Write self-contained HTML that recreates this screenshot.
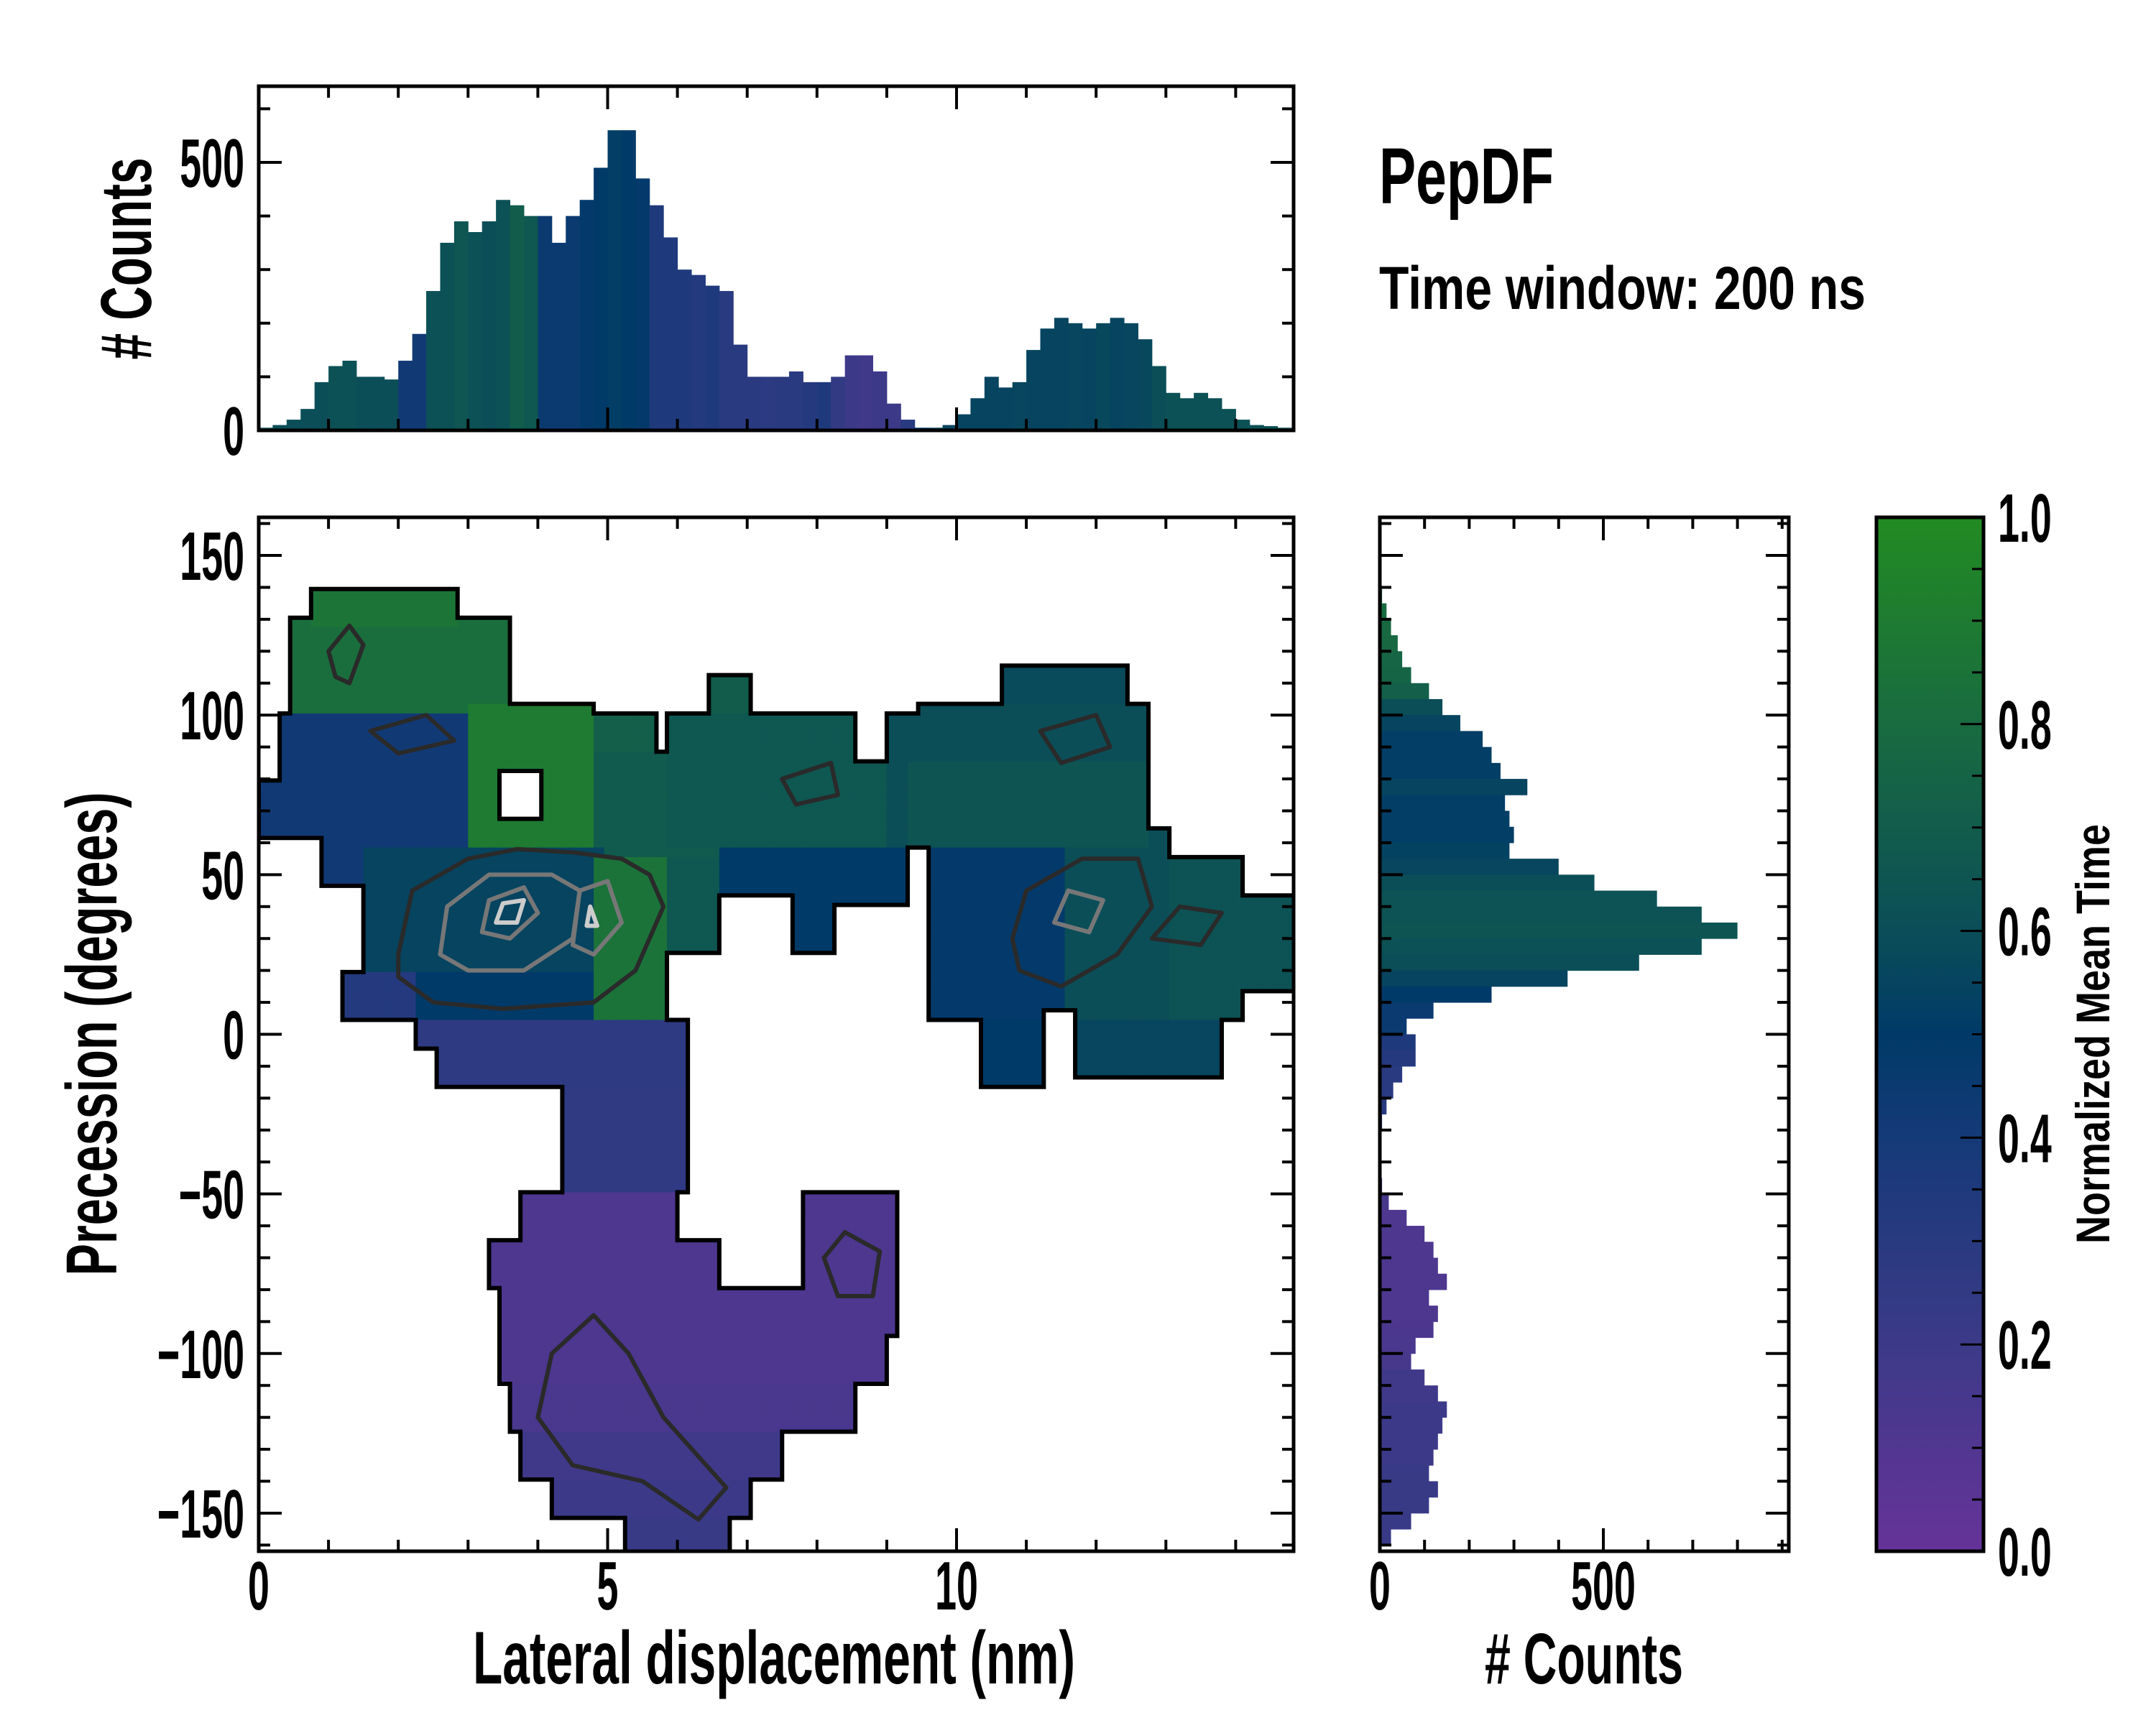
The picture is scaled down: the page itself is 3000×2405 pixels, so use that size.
<!DOCTYPE html>
<html><head><meta charset="utf-8"><style>
html,body{margin:0;padding:0;background:#fff;}
svg text{font-family:"Liberation Sans Narrow","Liberation Sans",sans-serif;font-weight:bold;fill:#000;}
</style></head><body>
<svg id="fig" xmlns="http://www.w3.org/2000/svg" width="3000" height="2400" viewBox="0 0 3000 2400">
<defs>
<linearGradient id="cmap" x1="0" y1="1" x2="0" y2="0">
<stop offset="0" stop-color="#663399"/><stop offset="0.2" stop-color="#3c3a88"/><stop offset="0.4" stop-color="#153a78"/><stop offset="0.5" stop-color="#003a68"/><stop offset="0.6" stop-color="#0b4e58"/><stop offset="0.8" stop-color="#196b40"/><stop offset="1" stop-color="#228b22"/>
</linearGradient>
<clipPath id="mainclip"><rect x="360" y="720" width="1440" height="1439"/></clipPath>
</defs>
<g id="main"></g>
<g id="tophist"></g>
<g id="righthist"></g>
<g id="cbar"></g>
<text x="1919" y="283" font-size="110" textLength="243" lengthAdjust="spacingAndGlyphs">PepDF</text>
<text x="1919" y="430" font-size="84" textLength="677" lengthAdjust="spacingAndGlyphs">Time window: 200 ns</text>
<text x="1077" y="2343" font-size="104" text-anchor="middle" textLength="838" lengthAdjust="spacingAndGlyphs">Lateral displacement (nm)</text>
<text transform="translate(162,1439) rotate(-90)" font-size="100" text-anchor="middle" textLength="673" lengthAdjust="spacingAndGlyphs">Precession (degrees)</text>
<text transform="translate(210,360) rotate(-90)" font-size="100" text-anchor="middle" textLength="281" lengthAdjust="spacingAndGlyphs"># Counts</text>
<text x="2204" y="2343" font-size="100" text-anchor="middle" textLength="276" lengthAdjust="spacingAndGlyphs"># Counts</text>
<text transform="translate(2935,1439) rotate(-90)" font-size="66" text-anchor="middle" textLength="584" lengthAdjust="spacingAndGlyphs">Normalized Mean Time</text>
</svg>
<script>
// ---- data ----
const regions = [
 [0.4,3.6,100,130,0.82],[0.8,2.9,128,139,0.86],
 [0.3,3.0,80,100,0.42],[0.0,3.0,62,80,0.42],[0.9,3.0,48,62,0.42],
 [3.0,4.8,60,104,0.9],[3.5,4.1,68,82,-1],
 [4.8,6.6,55,90,0.68],[4.8,5.7,90,100,0.72],
 [1.5,5.0,20,60,0.55],[1.2,5.0,5,20,0.5],[1.2,2.2,5,20,0.32],
 [4.8,5.9,5,55,0.85],[5.9,6.6,25,55,0.66],
 [2.2,6.1,-5,5,0.27],[2.6,6.1,-15,-5,0.27],
 [4.3,6.1,-50,-15,0.26],
 [3.8,6.0,-65,-50,0.12],[3.3,6.6,-80,-65,0.12],[7.8,9.2,-95,-50,0.12],
 [3.5,9.0,-110,-80,0.12],[3.6,8.5,-125,-110,0.14],[3.7,7.5,-140,-125,0.18],
 [4.2,7.0,-150,-140,0.2],[5.3,6.8,-163,-150,0.22],
 [6.5,7.1,100,113,0.7],[5.8,8.5,85,100,0.66],[5.9,9.3,60,85,0.66],
 [6.6,9.3,45,60,0.5],[7.6,8.2,27,45,0.5],[8.2,9.3,40,45,0.5],
 [9.0,9.6,60,100,0.6],
 [10.6,12.5,105,115,0.58],[9.4,12.7,85,105,0.6],[9.3,12.8,60,85,0.64],[12.8,13.0,55,65,0.6],
 [9.6,11.5,5,60,0.48],[11.5,13.0,5,58,0.6],[13.0,14.1,5,55,0.63],[14.1,14.8,15,45,0.63],
 [10.3,11.3,-15,5,0.5],[11.7,13.8,-12,5,0.56],[11.3,11.7,-10,8,-1]
];
const contoursDark = [
 [[2.0,25],[2.2,45],[3.0,55],[3.7,58],[4.5,57],[5.2,55],[5.6,50],[5.8,40],[5.4,20],[4.8,10],[3.5,8],[2.5,10],[2.0,18]],
 [[4.2,-100],[4.0,-120],[4.5,-135],[5.5,-140],[6.3,-152],[6.7,-142],[5.8,-120],[5.3,-100],[4.8,-88]],
 [[10.8,30],[11.0,45],[11.8,55],[12.6,55],[12.8,40],[12.3,25],[11.5,15],[10.9,20]],
 [[12.8,30],[13.2,40],[13.8,38],[13.5,28]],
 [[8.1,-70],[8.4,-62],[8.9,-68],[8.8,-82],[8.3,-82]],
 [[1.0,120],[1.3,128],[1.5,122],[1.3,110],[1.1,112]],
 [[1.6,95],[2.4,100],[2.8,92],[2.0,88]],
 [[7.5,80],[8.2,85],[8.3,75],[7.7,72]],
 [[11.2,95],[12.0,100],[12.2,90],[11.5,85]]
];
const contoursGray = [
 [[2.6,25],[2.7,40],[3.3,50],[4.2,50],[4.6,45],[4.5,30],[3.8,20],[3.0,20]],
 [[4.5,28],[4.6,45],[5.0,48],[5.2,35],[4.8,25]],
 [[3.2,32],[3.3,42],[3.8,46],[4.0,38],[3.6,30]],
 [[11.4,35],[11.6,45],[12.1,42],[11.9,32]]
];
const contoursLight = [
 [[3.4,35],[3.5,41],[3.8,42],[3.7,35]],
 [[4.7,34],[4.75,40],[4.85,34]]
];
const topCounts = [5,10,20,40,90,120,130,100,100,95,130,180,260,350,390,370,390,430,420,400,400,350,400,430,490,560,560,470,420,360,300,290,270,260,160,100,100,100,110,90,90,100,140,140,110,50,20,5,5,10,30,60,100,80,90,150,190,210,200,190,200,210,200,170,120,70,60,70,60,40,20,10,8,5,5];
const topColors = [0.6,0.6,0.6,0.6,0.6,0.62,0.62,0.6,0.6,0.6,0.42,0.42,0.62,0.62,0.65,0.62,0.6,0.62,0.7,0.66,0.45,0.45,0.45,0.48,0.5,0.52,0.5,0.48,0.35,0.35,0.35,0.33,0.35,0.3,0.3,0.3,0.28,0.3,0.3,0.32,0.35,0.25,0.2,0.18,0.2,0.2,0.3,0.5,0.55,0.55,0.55,0.55,0.55,0.55,0.56,0.55,0.55,0.55,0.56,0.55,0.57,0.55,0.56,0.57,0.6,0.62,0.62,0.62,0.62,0.62,0.62,0.62,0.62,0.6,0.6];
const rightCounts = [0,0,0,0,5,15,25,40,50,70,110,140,180,230,250,270,330,280,290,300,290,400,480,620,720,800,720,580,420,250,120,60,80,80,50,30,15,5,3,2,2,5,20,60,100,120,130,150,110,130,120,80,70,100,130,150,140,130,120,110,130,110,70,25];
const rightColors = [0.8,0.8,0.8,0.8,0.8,0.8,0.78,0.78,0.76,0.75,0.72,0.6,0.55,0.52,0.52,0.52,0.55,0.52,0.52,0.52,0.54,0.56,0.6,0.63,0.63,0.64,0.62,0.6,0.55,0.5,0.45,0.45,0.35,0.32,0.3,0.3,0.3,0.3,0.3,0.3,0.3,0.2,0.15,0.12,0.12,0.12,0.12,0.12,0.12,0.12,0.13,0.14,0.15,0.18,0.18,0.2,0.2,0.2,0.2,0.22,0.22,0.22,0.22,0.22];
const xTicks = [0,5,10];
const yTicks = [150,100,50,0,-50,-100,-150];
const topYTicks = [0,500];
const rightXTicks = [0,500];
const cbarTicks = [0,0.2,0.4,0.6,0.8,1.0];

// ---- scales ----
const X = v => 360 + v*97.1;
const Y = v => 1439.5 - v*4.443;
const Yt = c => 599 - c*0.746;
const Xr = c => 1920 + c*0.622;
const Yc = v => 2159 - v*1439;
const NS = 'http://www.w3.org/2000/svg';
function mk(tag, attrs, parent){const e=document.createElementNS(NS,tag);for(const k in attrs)e.setAttribute(k,attrs[k]);parent.appendChild(e);return e;}
const stops=[[0,[0x66,0x33,0x99]],[0.2,[0x3c,0x3a,0x88]],[0.4,[0x15,0x3a,0x78]],[0.5,[0x00,0x3a,0x68]],[0.6,[0x0b,0x4e,0x58]],[0.8,[0x19,0x6b,0x40]],[1,[0x22,0x8b,0x22]]];
function cmap(t){t=Math.max(0,Math.min(1,t));for(let i=0;i<stops.length-1;i++){const a=stops[i],b=stops[i+1];if(t<=b[0]){const f=(t-a[0])/(b[0]-a[0]);const c=a[1].map((v,j)=>Math.round(v+(b[1][j]-v)*f));return 'rgb('+c.join(',')+')';}}return 'rgb(34,139,34)';}

// ---- heatmap ----
const main=document.getElementById('main');
const gm=mk('g',{'clip-path':'url(#mainclip)'},main);
const DX=0.15, DY=3, NC=99, NR=109, TOP=163.5;
const grid=[];
for(let r=0;r<NR;r++){grid.push([]);for(let c=0;c<NC;c++){const cx=(c+0.5)*DX, cy=TOP-(r+0.5)*DY;let v=null;for(const R of regions){if(cx>=R[0]&&cx<R[1]&&cy>=R[2]&&cy<R[3])v=R[4];}grid[r].push(v!==null&&v>=0?v:null);}}
const filled=(r,c)=>r>=0&&r<NR&&c>=0&&c<NC&&grid[r][c]!==null;
let edges='';
for(let r=0;r<NR;r++)for(let c=0;c<NC;c++){if(!filled(r,c))continue;const x0=X(c*DX),x1=X((c+1)*DX),y0=Y(TOP-r*DY),y1=Y(TOP-(r+1)*DY);
 if(!filled(r-1,c))edges+=`M${x0} ${y0}H${x1}`;if(!filled(r+1,c))edges+=`M${x0} ${y1}H${x1}`;if(!filled(r,c-1))edges+=`M${x0} ${y0}V${y1}`;if(!filled(r,c+1))edges+=`M${x1} ${y0}V${y1}`;}
mk('path',{d:edges,stroke:'#fff',fill:'none','stroke-width':14,'stroke-linecap':'square'},gm);
const cells=mk('g',{},gm);
for(let r=0;r<NR;r++)for(let c=0;c<NC;c++){if(!filled(r,c))continue;const x0=X(c*DX),y0=Y(TOP-r*DY);
 const e=mk('rect',{x:x0,y:y0,width:X((c+1)*DX)-x0+0.6,height:Y(TOP-(r+1)*DY)-y0+0.6,fill:cmap(grid[r][c])},cells);
 
 }
function poly(pts,stroke,w,parent,name){const d='M'+pts.map(p=>X(p[0])+' '+Y(p[1])).join('L')+'Z';const e=mk('path',{d:d,fill:'none',stroke:stroke,'stroke-width':w,'stroke-linejoin':'round'},parent);
 
 }
contoursDark.forEach(p=>poly(p,'#2a2a2a',6,gm,'density-contour'));
contoursGray.forEach(p=>poly(p,'#777',6,gm,'density-contour'));
contoursLight.forEach(p=>poly(p,'#ccc',6,gm,'density-contour'));
mk('path',{d:edges,stroke:'#000',fill:'none','stroke-width':6,'stroke-linecap':'square'},gm);

function frame(parent,x,y,w,h){mk('rect',{x:x,y:y,width:w,height:h,fill:'none',stroke:'#000','stroke-width':5},parent);}
function tick(parent,x1,y1,x2,y2,w){mk('line',{x1:x1,y1:y1,x2:x2,y2:y2,stroke:'#000','stroke-width':w||4},parent);}
function label(parent,x,y,txt,anchor,size,name){const t=mk('text',{x:0,y:0,transform:`translate(${x},${y}) scale(0.56,1)`,'font-size':size||96,'text-anchor':anchor},parent);t.textContent=txt;
 
 }
// main ticks
for(let v=0;v<=14;v++){const L=v%5===0?32:16;tick(main,X(v),2159,X(v),2159-L);tick(main,X(v),720,X(v),720+L);}
for(let v=-160;v<=160;v+=10){const L=v%50===0?32:16;tick(main,360,Y(v),360+L,Y(v));tick(main,1800,Y(v),1800-L,Y(v));}
frame(main,360,720,1440,1439);
xTicks.forEach(v=>label(main,X(v),2240,String(v),'middle',96,'x-tick-label'));
yTicks.forEach(v=>label(main,340,Y(v)+34,(v<0?'\u2212':'')+Math.abs(v),'end',96,'y-tick-label'));

// top histogram
const th=document.getElementById('tophist');
topCounts.forEach((c,i)=>{const x0=X(i*0.2),x1=Math.min(1800,X((i+1)*0.2));if(x0>=1800)return;const e=mk('rect',{x:x0,y:Yt(c),width:x1-x0+0.5,height:Yt(0)-Yt(c),fill:cmap(topColors[i])},th);
 
 });
for(let v=0;v<=14;v++){const L=v%5===0?32:16;tick(th,X(v),599,X(v),599-L);tick(th,X(v),120,X(v),120+L);}
for(let v=0;v<=600;v+=100){const L=v%500===0?32:16;tick(th,360,Yt(v),360+L,Yt(v));tick(th,1800,Yt(v),1800-L,Yt(v));}
frame(th,360,120,1440,479);
topYTicks.forEach(v=>label(th,340,Yt(v)+34,String(v),'end',96,'top-hist-y-tick'));

// right histogram
const rh=document.getElementById('righthist');
rightCounts.forEach((c,i)=>{const y0=Y(160-i*5),y1=Y(160-(i+1)*5);const e=mk('rect',{x:1920,y:y0,width:Xr(c)-1920,height:y1-y0+0.5,fill:cmap(rightColors[i])},rh);
 
 });
for(let v=0;v<=900;v+=100){const L=v%500===0?32:16;tick(rh,Xr(v),2159,Xr(v),2159-L);tick(rh,Xr(v),720,Xr(v),720+L);}
for(let v=-160;v<=160;v+=10){const L=v%50===0?32:16;tick(rh,1920,Y(v),1920+L,Y(v));tick(rh,2489,Y(v),2489-L,Y(v));}
frame(rh,1920,720,569,1439);
rightXTicks.forEach(v=>label(rh,Xr(v),2240,String(v),'middle',96,'right-hist-x-tick'));

// colorbar
const cb=document.getElementById('cbar');
mk('rect',{x:2611,y:720,width:149,height:1439,fill:'url(#cmap)'},cb);
for(let i=0;i<=20;i++){const v=i*0.05;const L=i%4===0?32:16;tick(cb,2760,Yc(v),2760-L,Yc(v),3);}
frame(cb,2611,720,149,1439);
cbarTicks.forEach(v=>label(cb,2780,Yc(v)+34,v.toFixed(1),'start',96,'colorbar-tick-label'));
</script>
</body></html>
